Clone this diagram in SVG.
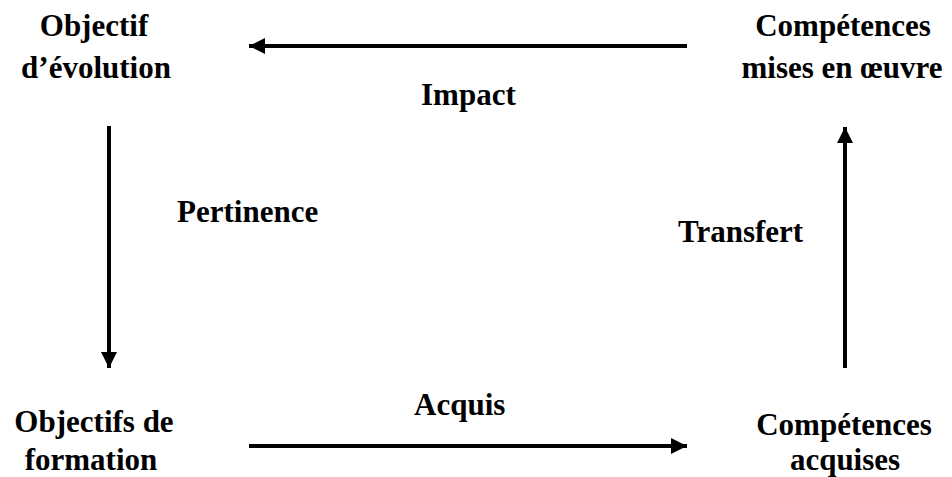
<svg xmlns="http://www.w3.org/2000/svg" width="952" height="477" viewBox="0 0 952 477">
  <style>
    text { font-family: 'Liberation Serif', 'DejaVu Serif', serif; font-weight: 700; font-size: 31px; fill: #000; }
    .c { text-anchor: middle; }
    .edge { stroke: #000; stroke-width: 4; fill: none; }
  </style>
  <defs>
    <marker id="head" viewBox="0 0 16 16" refX="16" refY="8" markerWidth="16" markerHeight="16" markerUnits="userSpaceOnUse" orient="auto">
      <path d="M0,0 L16,8 L0,16 Z" fill="#000"/>
    </marker>
  </defs>
  <rect width="952" height="477" fill="#fff"/>

  <g id="node-objectif-evolution">
    <text class="c" x="94" y="36">Objectif</text>
    <text class="c" x="96" y="78">d’évolution</text>
  </g>
  <g id="node-competences-mises">
    <text class="c" x="843" y="36">Compétences</text>
    <text class="c" x="842" y="78">mises en œuvre</text>
  </g>
  <g id="node-objectifs-formation">
    <text class="c" x="94" y="432">Objectifs de</text>
    <text class="c" x="91" y="470">formation</text>
  </g>
  <g id="node-competences-acquises">
    <text class="c" x="844" y="435">Compétences</text>
    <text class="c" x="845" y="470">acquises</text>
  </g>

  <g id="connectors">
    <line class="edge" x1="687" y1="46" x2="249" y2="46" marker-end="url(#head)"/>
    <line class="edge" x1="109" y1="126" x2="109" y2="368" marker-end="url(#head)"/>
    <line class="edge" x1="249" y1="446" x2="687" y2="446" marker-end="url(#head)"/>
    <line class="edge" x1="845" y1="368" x2="845" y2="127" marker-end="url(#head)"/>
    <text x="421" y="105">Impact</text>
    <text x="177" y="222">Pertinence</text>
    <text x="678" y="242">Transfert</text>
    <text x="414" y="415">Acquis</text>
  </g>
</svg>
